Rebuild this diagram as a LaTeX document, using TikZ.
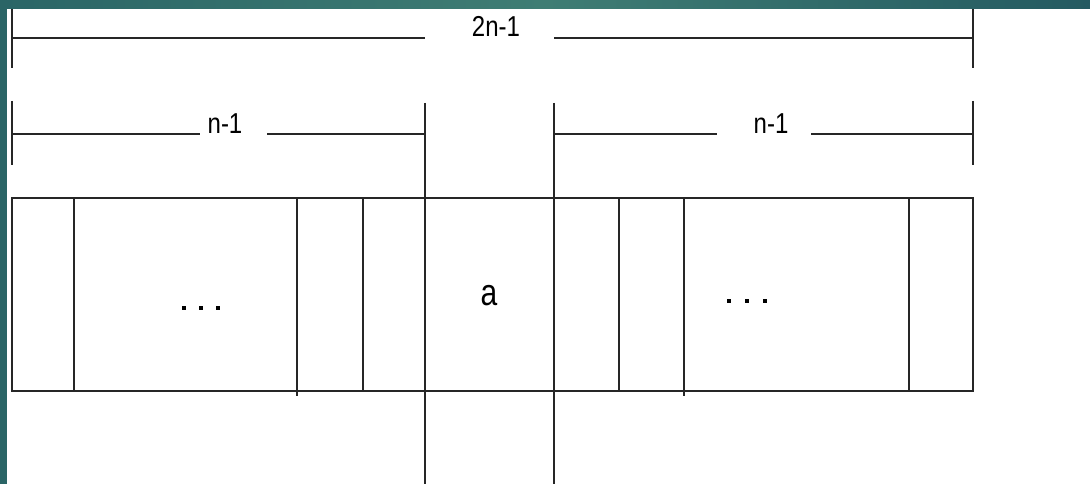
\documentclass[tikz,border=0pt]{standalone}
\usepackage{fontspec}
\setmainfont{Liberation Sans}
\definecolor{tealL}{HTML}{2A6566}
\definecolor{tealM}{HTML}{3F7D74}
\definecolor{tealR}{HTML}{245A61}
\begin{document}
\begin{tikzpicture}[x=1pt,y=-1pt,
  ln/.style={line width=1.9pt,draw=black!85},
  lbl/.style={inner sep=0pt,anchor=base,font=\fontsize{24}{24}\selectfont},
  dotsq/.style={fill=black,minimum size=3.5pt,inner sep=0pt,draw=none}]
\useasboundingbox (0,0) rectangle (1090,484);
\fill[white] (0,0) rectangle (1090,484);
% teal frame
\shade[left color=tealL, right color=tealR, middle color=tealM] (0,0) rectangle (1090,9);
\fill[tealL] (0,0) rectangle (7,484);
% top dimension 2n-1
\draw[ln] (12,9) -- (12,68);
\draw[ln] (973,9) -- (973,68);
\draw[ln] (12,38) -- (425,38);
\draw[ln] (554,38) -- (973,38);
\node[lbl] (t2n) at (496,37) {\scalebox{1}[1.2]{2n-1}};
% second row
\draw[ln] (12,101) -- (12,165);
\draw[ln] (973,101) -- (973,165);
\draw[ln] (425,103) -- (425,484);
\draw[ln] (554,103) -- (554,484);
\draw[ln] (12,134) -- (200,134);
\draw[ln] (267,134) -- (425,134);
\draw[ln] (554,134) -- (717,134);
\draw[ln] (811,134) -- (973,134);
\node[lbl] (nl) at (225,134) {\scalebox{1}[1.2]{n-1}};
\node[lbl] (nr) at (771,134) {\scalebox{1}[1.2]{n-1}};
% array box
\draw[ln] (12,198) rectangle (973,391);
\foreach \xx in {74,363,619,909} \draw[ln] (\xx,198) -- (\xx,391);
\draw[ln] (297,198) -- (297,396);
\draw[ln] (684,198) -- (684,396);
% labels in cells
\node[lbl,font=\fontsize{30}{30}\selectfont] (a) at (489,305) {\scalebox{1}[1.25]{a}};
\foreach \xx [count=\i] in {184,201,218} \node[dotsq] (dl\i) at (\xx,308) {};
\foreach \xx [count=\i] in {729,747,765} \node[dotsq] (dr\i) at (\xx,301) {};
\end{tikzpicture}
\end{document}
